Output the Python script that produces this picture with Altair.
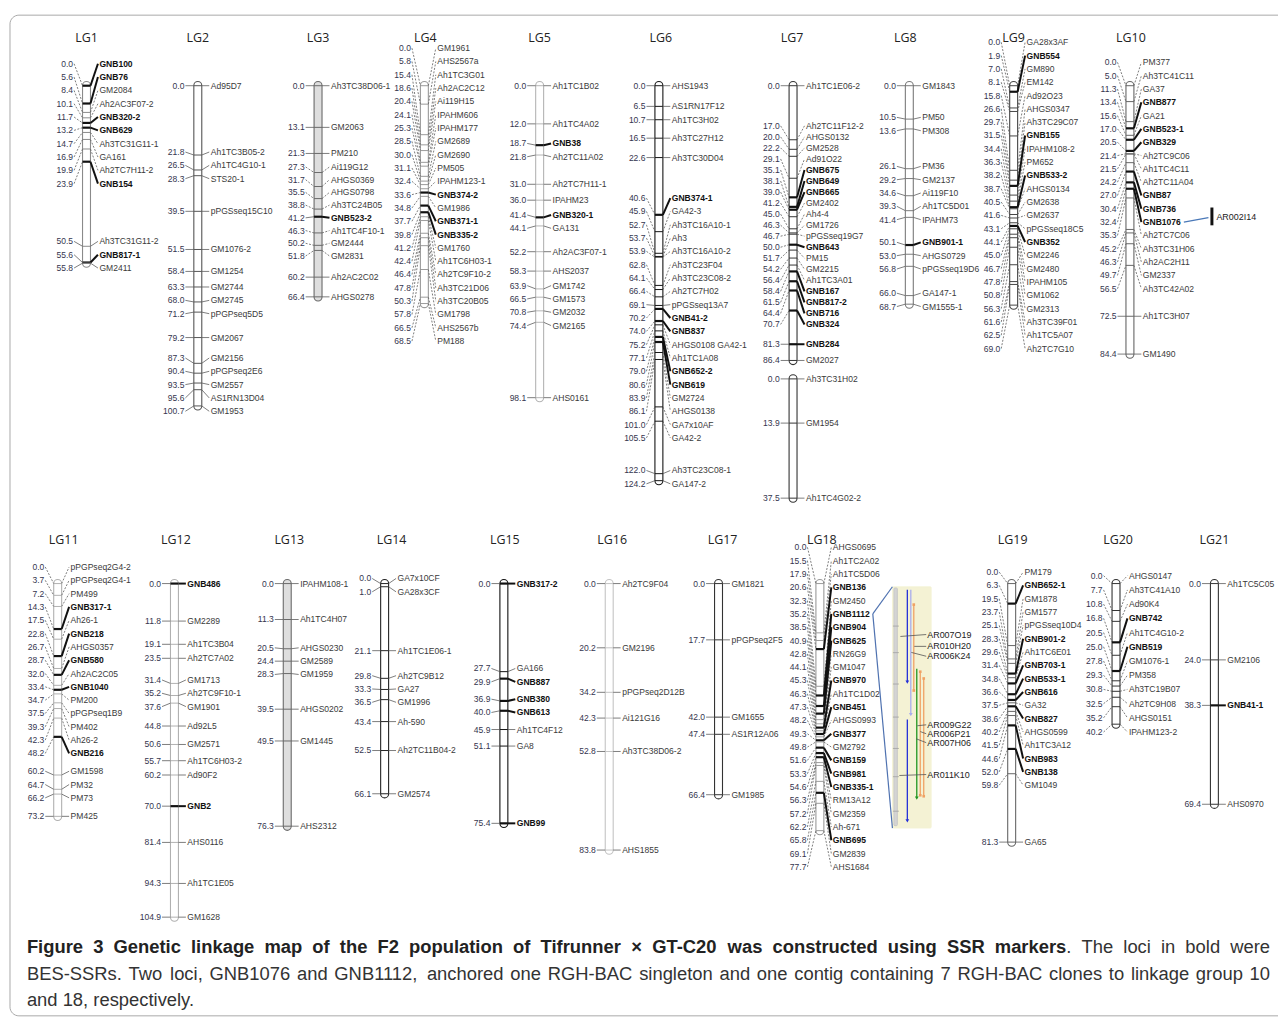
import altair as alt
import pandas as pd

# ------------------------------------------------------------------ data (cM positions and loci)
LG1_CM = [0.0, 5.6, 8.4, 10.1, 11.7, 13.2, 14.7, 16.9, 19.9, 23.9, 50.5, 55.6, 55.8]
LG1_LOCI = ["GNB100", "GNB76", "GM2084", "Ah2AC3F07-2", "GNB320-2", "GNB629", "Ah3TC31G11-1",
            "GA161", "Ah2TC7H11-2", "GNB154", "Ah3TC31G11-2", "GNB817-1", "GM2411"]
LG2_CM = [0.0, 21.8, 26.5, 28.3, 39.5, 51.5, 58.4, 63.3, 68.0, 71.2, 79.2, 87.3, 90.4, 93.5, 95.6, 100.7]
LG2_LOCI = ["Ad95D7", "Ah1TC3B05-2", "Ah1TC4G10-1", "STS20-1", "pPGSseq15C10", "GM1076-2", "GM1254",
            "GM2744", "GM2745", "pPGPseq5D5", "GM2067", "GM2156", "pPGPseq2E6", "GM2557",
            "AS1RN13D04", "GM1953"]
LG3_CM = [0.0, 13.1, 21.3, 27.3, 31.7, 35.5, 38.8, 41.2, 46.3, 50.2, 51.8, 60.2, 66.4]
LG3_LOCI = ["Ah3TC38D06-1", "GM2063", "PM210", "Ai119G12", "AHGS0369", "AHGS0798", "Ah3TC24B05",
            "GNB523-2", "Ah1TC4F10-1", "GM2444", "GM2831", "Ah2AC2C02", "AHGS0278"]
LG4_CM = [0.0, 5.8, 15.4, 18.6, 20.4, 24.1, 25.3, 28.5, 30.0, 31.1, 32.4, 33.6, 34.8, 37.7, 39.8,
          41.2, 42.4, 46.4, 47.8, 50.3, 57.8, 66.5, 68.5]
LG4_LOCI = ["GM1961", "AHS2567a", "Ah1TC3G01", "Ah2AC2C12", "Ai119H15", "IPAHM606", "IPAHM177",
            "GM2689", "GM2690", "PM505", "IPAHM123-1", "GNB374-2", "GM1986", "GNB371-1", "GNB335-2",
            "GM1760", "Ah1TC6H03-1", "Ah2TC9F10-2", "Ah3TC21D06", "Ah3TC20B05", "GM1798",
            "AHS2567b", "PM188"]
LG5_CM = [0.0, 12.0, 18.7, 21.8, 31.0, 36.0, 41.4, 44.1, 52.2, 58.3, 63.9, 66.5, 70.8, 74.4, 98.1]
LG5_LOCI = ["Ah1TC1B02", "Ah1TC4A02", "GNB38", "Ah2TC11A02", "Ah2TC7H11-1", "IPAHM23", "GNB320-1",
            "GA131", "Ah2AC3F07-1", "AHS2037", "GM1742", "GM1573", "GM2032", "GM2165", "AHS0161"]
LG6_CM = [0.0, 6.5, 10.7, 16.5, 22.6, 40.6, 45.9, 52.7, 53.7, 53.9, 62.8, 64.1, 66.4, 69.1, 70.2,
          74.0, 75.2, 77.1, 79.0, 80.6, 83.9, 86.1, 101.0, 105.5, 122.0, 124.2]
LG6_LOCI = ["AHS1943", "AS1RN17F12", "Ah1TC3H02", "Ah3TC27H12", "Ah3TC30D04", "GNB374-1", "GA42-3",
            "Ah3TC16A10-1", "Ah3", "Ah3TC16A10-2", "Ah3TC23F04", "Ah3TC23C08-2", "Ah2TC7H02",
            "pPGSseq13A7", "GNB41-2", "GNB837", "AHGS0108 GA42-1", "Ah1TC1A08", "GNB652-2", "GNB619",
            "GM2724", "AHGS0138", "GA7x10AF", "GA42-2", "Ah3TC23C08-1", "GA147-2"]
LG7_CM = [0.0, 17.0, 20.0, 22.2, 29.1, 35.1, 38.1, 39.0, 41.2, 45.0, 46.3, 46.7, 50.0, 51.7, 54.2,
          56.4, 58.4, 61.5, 64.4, 70.7, 81.3, 86.4]
LG7_LOCI = ["Ah1TC1E06-2", "Ah2TC11F12-2", "AHGS0132", "GM2528", "Ad91O22", "GNB675", "GNB649",
            "GNB665", "GM2402", "Ah4-4", "GM1726", "pPGSseq19G7", "GNB643", "PM15", "GM2215",
            "Ah1TC3A01", "GNB167", "GNB817-2", "GNB716", "GNB324", "GNB284", "GM2027"]
LG7B_CM = [0.0, 13.9, 37.5]
LG7B_LOCI = ["Ah3TC31H02", "GM1954", "Ah1TC4G02-2"]
LG8_CM = [0.0, 10.5, 13.6, 26.1, 29.2, 34.6, 39.3, 41.4, 50.1, 53.0, 56.8, 66.0, 68.7]
LG8_LOCI = ["GM1843", "PM50", "PM308", "PM36", "GM2137", "Ai119F10", "Ah1TC5D01", "IPAHM73",
            "GNB901-1", "AHGS0729", "pPGSseq19D6", "GA147-1", "GM1555-1"]
LG9_CM = [0.0, 1.9, 7.0, 8.1, 15.8, 26.6, 29.7, 31.5, 34.4, 36.3, 38.2, 38.7, 40.5, 41.6, 43.1,
          44.1, 45.0, 46.7, 47.8, 50.8, 56.3, 61.6, 62.5, 69.0]
LG9_LOCI = ["GA28x3AF", "GNB554", "GM890", "EM142", "Ad92O23", "AHGS0347", "Ah3TC29C07", "GNB155",
            "IPAHM108-2", "PM652", "GNB533-2", "AHGS0134", "GM2638", "GM2637", "pPGSseq18C5",
            "GNB352", "GM2246", "GM2480", "IPAHM105", "GM1062", "GM2313", "Ah3TC39F01",
            "Ah1TC5A07", "Ah2TC7G10"]
LG10_CM = [0.0, 5.0, 11.3, 13.4, 15.6, 17.0, 20.5, 21.4, 21.5, 24.2, 27.0, 30.4, 32.4, 35.3, 45.2,
           46.3, 49.7, 56.5, 72.5, 84.4]
LG10_LOCI = ["PM377", "Ah3TC41C11", "GA37", "GNB877", "GA21", "GNB523-1", "GNB329", "Ah2TC9C06",
             "Ah1TC4C11", "Ah2TC11A04", "GNB87", "GNB736", "GNB1076", "Ah2TC7C06", "Ah3TC31H06",
             "Ah2AC2H11", "GM2337", "Ah3TC42A02", "Ah1TC3H07", "GM1490"]
LG11_CM = [0.0, 3.7, 7.2, 14.3, 17.5, 22.8, 26.7, 28.7, 32.0, 33.4, 34.7, 37.5, 39.3, 42.3, 48.2,
           60.2, 64.7, 66.2, 73.2]
LG11_LOCI = ["pPGPseq2G4-2", "pPGPseq2G4-1", "PM499", "GNB317-1", "Ah26-1", "GNB218", "AHGS0357",
             "GNB580", "Ah2AC2C05", "GNB1040", "PM200", "pPGPseq1B9", "PM402", "Ah26-2", "GNB216",
             "GM1598", "PM32", "PM73", "PM425"]
LG12_CM = [0.0, 11.8, 19.1, 23.5, 31.4, 35.2, 37.6, 44.8, 50.6, 55.7, 60.2, 70.0, 81.4, 94.3, 104.9]
LG12_LOCI = ["GNB486", "GM2289", "Ah1TC3B04", "Ah2TC7A02", "GM1713", "Ah2TC9F10-1", "GM1901",
             "Ad92L5", "GM2571", "Ah1TC6H03-2", "Ad90F2", "GNB2", "AHS0116", "Ah1TC1E05", "GM1628"]
LG13_CM = [0.0, 11.3, 20.5, 24.4, 28.3, 39.5, 49.5, 76.3]
LG13_LOCI = ["IPAHM108-1", "Ah1TC4H07", "AHGS0230", "GM2589", "GM1959", "AHGS0202", "GM1445", "AHS2312"]
LG14_CM = [0.0, 1.0, 21.1, 29.8, 33.3, 36.5, 43.4, 52.5, 66.1]
LG14_LOCI = ["GA7x10CF", "GA28x3CF", "Ah1TC1E06-1", "Ah2TC9B12", "GA27", "GM1996", "Ah-590",
             "Ah2TC11B04-2", "GM2574"]
LG15_CM = [0.0, 27.7, 29.9, 36.9, 40.0, 45.9, 51.1, 75.4]
LG15_LOCI = ["GNB317-2", "GA166", "GNB887", "GNB380", "GNB613", "Ah1TC4F12", "GA8", "GNB99"]
LG16_CM = [0.0, 20.2, 34.2, 42.3, 52.8, 83.8]
LG16_LOCI = ["Ah2TC9F04", "GM2196", "pPGPseq2D12B", "Ai121G16", "Ah3TC38D06-2", "AHS1855"]
LG17_CM = [0.0, 17.7, 42.0, 47.4, 66.4]
LG17_LOCI = ["GM1821", "pPGPseq2F5", "GM1655", "AS1R12A06", "GM1985"]
LG18_CM = [0.0, 15.5, 17.9, 20.6, 32.3, 35.2, 38.5, 40.9, 42.8, 44.1, 45.3, 46.3, 47.3, 48.2, 49.3,
           49.8, 51.6, 53.3, 54.6, 56.3, 57.2, 62.2, 65.8, 69.1, 77.7]
LG18_LOCI = ["AHGS0695", "Ah1TC2A02", "Ah1TC5D06", "GNB136", "GM2450", "GNB1112", "GNB904", "GNB625",
             "RN26G9", "GM1047", "GNB970", "Ah1TC1D02", "GNB451", "AHGS0993", "GNB377", "GM2792",
             "GNB159", "GNB981", "GNB335-1", "RM13A12", "GM2359", "Ah-671", "GNB695", "GM2839",
             "AHS1684"]
LG19_CM = [0.0, 6.3, 19.5, 23.7, 25.1, 28.3, 29.6, 31.4, 34.8, 36.6, 37.5, 38.6, 40.2, 41.5, 44.6,
           52.0, 59.8, 81.3]
LG19_LOCI = ["PM179", "GNB652-1", "GM1878", "GM1577", "pPGSseq10D4", "GNB901-2", "Ah1TC6E01",
             "GNB703-1", "GNB533-1", "GNB616", "GA32", "GNB827", "AHGS0599", "Ah1TC3A12", "GNB983",
             "GNB138", "GM1049", "GA65"]
LG20_CM = [0.0, 7.7, 10.8, 16.8, 20.5, 25.0, 27.8, 29.3, 30.8, 32.5, 35.2, 40.2]
LG20_LOCI = ["AHGS0147", "Ah3TC41A10", "Ad90K4", "GNB742", "Ah1TC4G10-2", "GNB519", "GM1076-1",
             "PM358", "Ah3TC19B07", "Ah2TC9H08", "AHGS0151", "IPAHM123-2"]
LG21_CM = [0.0, 24.0, 38.3, 69.4]
LG21_LOCI = ["Ah1TC5C05", "GM2106", "GNB41-1", "AHS0970"]

# RGH-BAC anchoring (LG10 singleton, LG18 contig inset in relative units 0-100)
SINGLETON_LOCUS = "GNB1076"
SINGLETON_CLONE = "AR002I14"
CONTIG_LOCUS = "GNB1112"
CONTIG_START = [1.2, 1.2, 7.4, 34.0, 35.2, 38.0, 55.0]
CONTIG_END = [39.5, 53.0, 43.0, 87.6, 86.4, 86.8, 97.0]
CONTIG_KIND = ["blue", "lilac", "orange", "green", "orange", "orange", "blue"]
CONTIG_CLONES = ["AR007O19", "AR010H20", "AR006K24", "AR009G22", "AR006P21", "AR007H06", "AR011K10"]
CONTIG_LABEL_U = [19.8, 24.7, 28.8, 57.2, 60.9, 64.6, 77.8]
CONTIG_ANCHOR_U = [20.6, 24.7, 27.2, 57.6, 60.0, 63.0, 78.2]
CONTIG_TICK_U = [16.3, 27.3, 40.3, 54.0, 67.0, 78.7, 93.0]

CAP_L1_BOLD = "Figure 3 Genetic linkage map of the F2 population of Tifrunner \u00d7 GT-C20 was constructed using SSR markers"
CAP_L1_REG = ". The loci in bold were"
CAP_L2 = ("BES-SSRs. Two loci, GNB1076 and GNB1112, anchored one RGH-BAC singleton and one contig "
          "containing 7 RGH-BAC clones to linkage group 10")
CAP_L3 = "and 18, respectively."

DATA = {
    "LG1": (LG1_CM, LG1_LOCI), "LG2": (LG2_CM, LG2_LOCI), "LG3": (LG3_CM, LG3_LOCI),
    "LG4": (LG4_CM, LG4_LOCI), "LG5": (LG5_CM, LG5_LOCI), "LG6": (LG6_CM, LG6_LOCI),
    "LG7": (LG7_CM, LG7_LOCI), "LG7b": (LG7B_CM, LG7B_LOCI), "LG8": (LG8_CM, LG8_LOCI),
    "LG9": (LG9_CM, LG9_LOCI), "LG10": (LG10_CM, LG10_LOCI), "LG11": (LG11_CM, LG11_LOCI),
    "LG12": (LG12_CM, LG12_LOCI), "LG13": (LG13_CM, LG13_LOCI), "LG14": (LG14_CM, LG14_LOCI),
    "LG15": (LG15_CM, LG15_LOCI), "LG16": (LG16_CM, LG16_LOCI), "LG17": (LG17_CM, LG17_LOCI),
    "LG18": (LG18_CM, LG18_LOCI), "LG19": (LG19_CM, LG19_LOCI), "LG20": (LG20_CM, LG20_LOCI),
    "LG21": (LG21_CM, LG21_LOCI),
}

# ------------------------------------------------------------------ layout / style
K = 3.2                      # px per cM
ROW_ZERO = [83, 584]         # page y of 0 cM in each row
W, H = 1278, 1014


def py(px):
    return (px - ROW_ZERO[0]) / K


ROW_BASE = [0.0, py(ROW_ZERO[1])]
BAR_X = {"LG1": 87, "LG2": 199, "LG3": 320, "LG4": 427, "LG5": 543, "LG6": 663, "LG7": 798,
         "LG7b": 798, "LG8": 915, "LG9": 1020, "LG10": 1137, "LG11": 58, "LG12": 175.5,
         "LG13": 289, "LG14": 387, "LG15": 507, "LG16": 613, "LG17": 723, "LG18": 825,
         "LG19": 1018, "LG20": 1123, "LG21": 1222}
TITLE_X = {"LG1": 87, "LG2": 199, "LG3": 320, "LG4": 428, "LG5": 543, "LG6": 665, "LG7": 797,
           "LG8": 911, "LG9": 1020, "LG10": 1138, "LG11": 64, "LG12": 177, "LG13": 291,
           "LG14": 394, "LG15": 508, "LG16": 616, "LG17": 727, "LG18": 827, "LG19": 1019,
           "LG20": 1125, "LG21": 1222}
TITLE_Y = [35, 540]
PART_OFFSET = {"LG7b": 92.2}
STRETCH = {"LG20": 1.1}
GAP_PX = {"LG3": 12.8, "LG7": 11.1, "LG20": 14.3}
BAR_STYLE = {  # stroke, fill
    "LG1": ("#8a8a8a", "white"), "LG2": ("#555555", "white"), "LG3": ("#6a6a6a", "#dedede"),
    "LG4": ("#9a9a9a", "white"), "LG5": ("#b4b4b4", "white"), "LG6": ("#151515", "white"),
    "LG7": ("#333333", "white"), "LG7b": ("#333333", "white"), "LG8": ("#7a7a7a", "white"),
    "LG9": ("#444444", "white"), "LG10": ("#666666", "white"), "LG11": ("#b0b0b0", "white"),
    "LG12": ("#b0b0b0", "white"), "LG13": ("#6a6a6a", "#dedede"), "LG14": ("#222222", "white"),
    "LG15": ("#111111", "white"), "LG16": ("#c4c4c4", "white"), "LG17": ("#333333", "white"),
    "LG18": ("#9a9a9a", "white"), "LG19": ("#666666", "white"), "LG20": ("#333333", "white"),
    "LG21": ("#333333", "white"),
}
ROW = {g: (0 if g in ("LG1", "LG2", "LG3", "LG4", "LG5", "LG6", "LG7", "LG7b", "LG8", "LG9", "LG10") else 1)
       for g in DATA}

FONT = "Liberation Sans"
LSIZE = 8.6
CSIZE = 18.5
HALF = 4.0

# Arial / Liberation Sans advance widths (per 1000 em)
_REG = dict(zip(" ,-.0123456789:ABCDEFGHIJKLMNOPQRSTUVWXYZabcdefghijklmnopqrstuvwxyz\u00d7",
                [278, 278, 333, 278] + [556] * 10 + [278] +
                [667, 667, 722, 722, 667, 611, 778, 722, 278, 500, 667, 556, 833, 722, 778, 667, 778,
                 722, 667, 611, 722, 667, 944, 667, 667, 611] +
                [556, 556, 500, 556, 556, 278, 556, 556, 222, 222, 500, 222, 833, 556, 556, 556, 556,
                 333, 500, 278, 556, 500, 722, 500, 500, 500] + [584]))
_BOLD = dict(zip(" ,-.0123456789:ABCDEFGHIJKLMNOPQRSTUVWXYZabcdefghijklmnopqrstuvwxyz\u00d7",
                 [278, 278, 333, 278] + [556] * 10 + [333] +
                 [722, 722, 722, 722, 667, 611, 778, 722, 278, 556, 722, 611, 833, 722, 778, 667, 778,
                  722, 667, 611, 722, 667, 944, 667, 667, 611] +
                 [556, 611, 556, 611, 556, 333, 611, 611, 278, 278, 556, 278, 889, 611, 611, 611, 611,
                  389, 556, 333, 611, 556, 778, 556, 556, 500] + [584]))


def tw(s, size, bold=False):
    t = _BOLD if bold else _REG
    return sum(t.get(ch, 556) for ch in s) / 1000.0 * size


def spread(pos, gap):
    cl = [[i] for i in range(len(pos))]

    def lab(c):
        mid = (pos[c[0]] + pos[c[-1]]) / 2.0
        m = len(c)
        return [mid + (k - (m - 1) / 2.0) * gap for k in range(m)]

    changed = True
    while changed:
        changed = False
        for j in range(len(cl) - 1):
            a, b = lab(cl[j]), lab(cl[j + 1])
            if b[0] - a[-1] < gap - 1e-6:
                cl[j] = cl[j] + cl[j + 1]
                del cl[j + 1]
                changed = True
                break
    out, sizes = [], []
    for c in cl:
        out += lab(c)
        sizes += [len(c)] * len(c)
    return out, sizes


bars, rules, dashed, nums, names, bolds, titles = [], [], [], [], [], [], []
label_pos = {}
CONN = "#5c5c5c"

for g, (cms, loci) in DATA.items():
    bx = BAR_X[g]
    st = STRETCH.get(g, 1.0)
    base = ROW_BASE[ROW[g]] + PART_OFFSET.get(g, 0.0)
    pos = [c * st for c in cms]
    gap = GAP_PX.get(g, 13.4) / K
    labs, sizes = spread(pos, gap)
    stroke, fill = BAR_STYLE[g]
    bars.append(dict(x=bx - HALF, x2=bx + HALF, y=base + pos[0] - 1.3, y2=base + pos[-1] + 1.3,
                     s=stroke, f=fill))
    for c, p, name, ly, sz in zip(cms, pos, loci, labs, sizes):
        bold = name.startswith("GNB")
        y, yl = base + p, base + ly
        dash = abs(ly - p) > 0.4 and sz >= 6
        (dashed if dash else rules).append(dict(x=bx - 12.5, y=yl, x2=bx - HALF, y2=y, c=CONN, w=0.8))
        rules.append(dict(x=bx - HALF, y=y, x2=bx + HALF, y2=y,
                          c="#111111" if bold else stroke, w=2.2 if bold else 1.0))
        if bold:
            rules.append(dict(x=bx + HALF, y=y, x2=bx + 11.5, y2=yl, c="#111111", w=2.0))
        else:
            (dashed if dash else rules).append(dict(x=bx + HALF, y=y, x2=bx + 11.5, y2=yl, c=CONN, w=0.8))
        nums.append(dict(x=bx - 13.5, y=yl, t=f"{c:.1f}"))
        (bolds if bold else names).append(dict(x=bx + 13, y=yl, t=name))
        label_pos[name] = (bx + 13 + tw(name, LSIZE, bold), yl)
    if g in TITLE_X:
        titles.append(dict(x=TITLE_X[g], y=py(TITLE_Y[ROW[g]]), t=g))

# --- LG10 singleton BAC
sx, sy = label_pos[SINGLETON_LOCUS]
single_bar = [dict(x=1219.5, y=sy - 4.6, x2=1219.5, y2=sy + 1.0, c="#111111", w=3.0)]
single_line = [dict(x=sx + 3, y=sy, x2=1216, y2=sy - 1.4, c="#4a78b8", w=1.2)]
single_text = [dict(x=1224, y=sy - 1.6, t=SINGLETON_CLONE)]

# --- LG18 contig inset
base18 = ROW_BASE[1]
IN_X0, IN_X1 = 898, 937
IN_TOP, IN_BOT = base18 + 1.0, base18 + 76.9


def iu(u):
    return IN_TOP + u / 100.0 * (IN_BOT - IN_TOP)


LANE_X = [913, 916.5, 919.5, 922.5, 926, 929.5, 913]
ANCHOR_X = [906, 920, 917, 923, 926, 922, 905]
KIND_COL = {"blue": "#2430d8", "lilac": "#a8acee", "orange": "#f0a264", "green": "#1f951f"}
inset_box = [dict(x=IN_X0, x2=IN_X1, y=IN_TOP, y2=IN_BOT, s="#f4f2d4", f="#f4f2d4"),
             dict(x=899.5, x2=903, y=iu(0.5), y2=iu(99), s="#c4c4c4", f="#d4d4d4")]
inset_rules, heads, ends = [], [], []
for u in CONTIG_TICK_U:
    inset_rules.append(dict(x=898.5, y=iu(u), x2=904.5, y2=iu(u), c="#a0a0a0", w=0.8))
for s, e, k, lx in zip(CONTIG_START, CONTIG_END, CONTIG_KIND, LANE_X):
    inset_rules.append(dict(x=lx, y=iu(s), x2=lx, y2=iu(e), c=KIND_COL[k], w=1.3))
    if k == "orange":
        ends.append(dict(x=lx, y=iu(s), c=KIND_COL[k]))
        ends.append(dict(x=lx, y=iu(e), c=KIND_COL[k]))
    else:
        heads.append(dict(x=lx, y=iu(e), c=KIND_COL[k]))
inset_text = []
for name, lu, au, ax in zip(CONTIG_CLONES, CONTIG_LABEL_U, CONTIG_ANCHOR_U, ANCHOR_X):
    inset_rules.append(dict(x=ax, y=iu(au), x2=932, y2=iu(lu), c="#555555", w=0.8))
    inset_text.append(dict(x=933, y=iu(lu), t=name))
cx, cy = label_pos[CONTIG_LOCUS]
inset_rules.append(dict(x=cx + 2, y=cy, x2=IN_X0, y2=IN_TOP, c="#4f72b0", w=1.2))
inset_rules.append(dict(x=cx + 2, y=cy, x2=IN_X0, y2=IN_BOT, c="#4f72b0", w=1.2))

# --- frame and caption (justified lines built from word widths)
frame = [dict(x=10, x2=1300, y=py(12), y2=py(1019), s="#a8a8a8", f="none")]
CAP_X0, CAP_X1 = 27, 1278


def justify(tokens, ypx):
    # tokens: (text, bold, space_before)
    nat = sum(tw(t, CSIZE, b) for t, b, _ in tokens)
    nsp = sum(1 for _, _, sp in tokens if sp)
    extra = (CAP_X1 - CAP_X0 - nat) / max(nsp, 1)
    x = CAP_X0
    out = []
    for t, b, sp in tokens:
        if sp:
            x += extra
        out.append(dict(x=x, y=py(ypx), t=t, b=b))
        x += tw(t, CSIZE, b)
    return out


tok1 = [(w_, True, i > 0) for i, w_ in enumerate(CAP_L1_BOLD.split(" "))]
reg1 = CAP_L1_REG.split(" ")
tok1 += [(reg1[0], False, False)] + [(w_, False, True) for w_ in reg1[1:]]
tok2 = [(w_, False, i > 0) for i, w_ in enumerate(CAP_L2.split(" "))]
cap = justify(tok1, 950) + justify(tok2, 977) + [dict(x=CAP_X0, y=py(1003), t=CAP_L3, b=False)]
cap_bold = [c for c in cap if c["b"]]
cap_reg = [c for c in cap if not c["b"]]

# ------------------------------------------------------------------ chart
XS = alt.Scale(domain=[8, 8 + W], nice=False, zero=False)
YS = alt.Scale(domain=[py(8), py(8 + H)], nice=False, zero=False, reverse=True)


def X(f="x"):
    return alt.X(f"{f}:Q", scale=XS, axis=None)


def Y(f="y"):
    return alt.Y(f"{f}:Q", scale=YS, axis=None)


def rect_layer(rows, sw=1.1, radius=4, clip=False):
    return alt.Chart(pd.DataFrame(rows)).mark_rect(cornerRadius=radius, strokeWidth=sw, clip=clip).encode(
        x=X(), x2="x2:Q", y=Y(), y2="y2:Q",
        fill=alt.Fill("f:N", scale=None), stroke=alt.Stroke("s:N", scale=None))


def rule_layer(rows, dash=None):
    kw = dict(strokeCap="butt")
    if dash:
        kw["strokeDash"] = dash
    return alt.Chart(pd.DataFrame(rows)).mark_rule(**kw).encode(
        x=X(), x2="x2:Q", y=Y(), y2="y2:Q",
        color=alt.Color("c:N", scale=None), strokeWidth=alt.StrokeWidth("w:Q", scale=None))


def text_layer(rows, **kw):
    return alt.Chart(pd.DataFrame(rows)).mark_text(baseline="middle", **kw).encode(
        x=X(), y=Y(), text="t:N")


layers = [
    rect_layer(frame, sw=1.0, radius=9, clip=True),
    rect_layer(bars),
    rule_layer(dashed, dash=[2, 1.5]),
    rule_layer(rules),
    text_layer(nums, align="right", font=FONT, fontSize=LSIZE, color="#35354e"),
    text_layer(names, align="left", font=FONT, fontSize=LSIZE, color="#3a3a3a"),
    text_layer(bolds, align="left", font=FONT, fontSize=LSIZE, fontWeight="bold", color="#111111"),
    text_layer(titles, align="center", font="Open Sans", fontSize=12.5, color="#222222"),
    rule_layer(single_bar), rule_layer(single_line),
    text_layer(single_text, align="left", font=FONT, fontSize=9, color="#222222"),
    rect_layer(inset_box, sw=0.8, radius=1),
    rule_layer(inset_rules),
    alt.Chart(pd.DataFrame(heads)).mark_point(shape="triangle-down", filled=True, size=14, opacity=1).encode(
        x=X(), y=Y(), color=alt.Color("c:N", scale=None)),
    alt.Chart(pd.DataFrame(ends)).mark_square(size=7, opacity=1).encode(
        x=X(), y=Y(), color=alt.Color("c:N", scale=None)),
    text_layer(inset_text, align="left", font=FONT, fontSize=9, color="#222222"),
    text_layer(cap_bold, align="left", font=FONT, fontSize=CSIZE, fontWeight="bold", color="#222222"),
    text_layer(cap_reg, align="left", font=FONT, fontSize=CSIZE, color="#333333"),
]

chart = alt.layer(*layers).properties(
    width=W, height=H, padding=0, autosize=alt.AutoSizeParams(type="none"), background="white"
).configure_view(stroke=None)

chart.save("out.html", embed_options={"renderer": "svg", "actions": False})
